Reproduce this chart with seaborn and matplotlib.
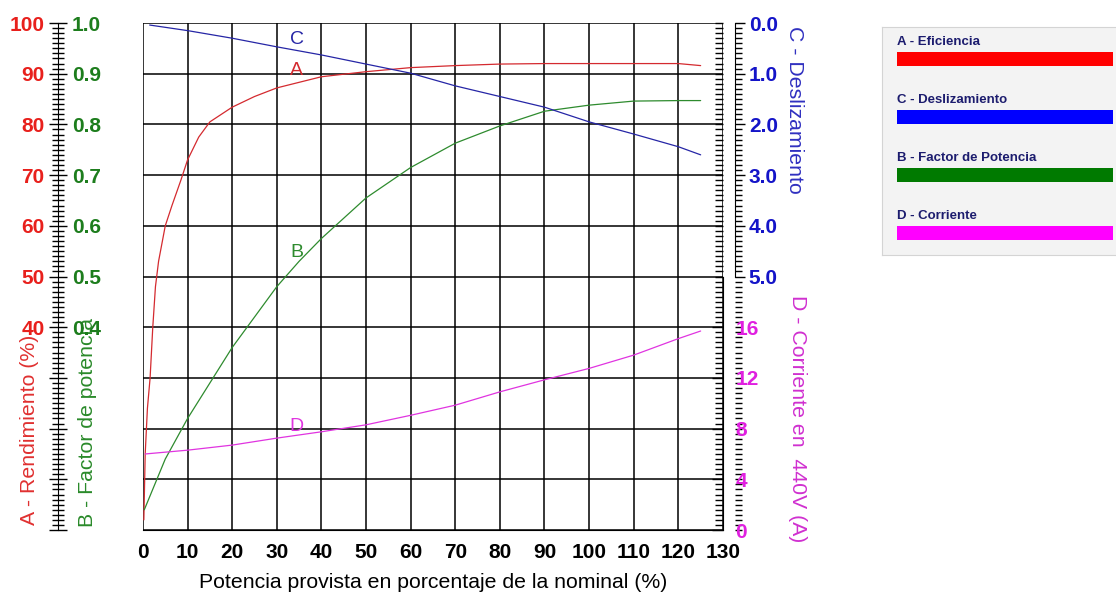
import matplotlib
matplotlib.use("Agg")
import matplotlib.pyplot as plt
from matplotlib.ticker import MultipleLocator
import seaborn as sns

# curva A - rendimiento (%)
pot_a = [0.2, 0.5, 1, 1.6, 2.2, 2.8, 3.5, 5, 6.5, 8.5, 10, 12.5, 15, 20, 25, 30,
         40, 50, 60, 70, 80, 90, 100, 110, 120, 125]
rendimiento = [2, 15, 24, 30, 40, 48, 53, 60, 64, 69, 73, 77.5, 80.5, 83.4, 85.5, 87.2,
               89.4, 90.4, 91.2, 91.6, 91.9, 92.0, 92.0, 92.0, 92.0, 91.6]

# curva B - factor de potencia
pot_b = [0.3, 5, 10, 15, 20, 25, 30, 35, 40, 50, 60, 70, 80, 90, 100, 110, 120, 125]
factor_pot = [0.04, 0.14, 0.22, 0.29, 0.36, 0.42, 0.48, 0.53, 0.575, 0.655, 0.715,
              0.763, 0.797, 0.826, 0.838, 0.846, 0.847, 0.847]

# curva C - deslizamiento
pot_c = [1.5, 10, 20, 30, 40, 50, 60, 70, 80, 90, 100, 110, 120, 125]
deslizamiento = [0.04, 0.15, 0.30, 0.47, 0.63, 0.81, 0.99, 1.24, 1.45, 1.66, 1.95,
                 2.19, 2.44, 2.6]

# curva D - corriente en 440V (A)
pot_d = [0.5, 10, 20, 30, 40, 50, 60, 70, 80, 90, 100, 110, 120, 125]
corriente = [6.0, 6.3, 6.7, 7.25, 7.75, 8.3, 9.05, 9.85, 10.9, 11.85, 12.75, 13.8,
             15.1, 15.7]

x_ticks = list(range(0, 131, 10))
a_ticks = list(range(0, 101, 10))
a_labels = ["", "", "", "", "40", "50", "60", "70", "80", "90", "100"]
b_ticks = [0.4, 0.5, 0.6, 0.7, 0.8, 0.9, 1.0]
c_ticks = [0, 1, 2, 3, 4, 5]
d_ticks = [0, 4, 8, 12, 16]

leyenda = ["A - Eficiencia", "C - Deslizamiento", "B - Factor de Potencia", "D - Corriente"]
leyenda_colores = ["#ff0000", "#0000ff", "#007a00", "#ff00ff"]

sns.set_style("white")
plt.rcParams["font.family"] = ["Liberation Sans", "DejaVu Sans"]

rojo, verde, azul, magenta = "#e8201c", "#1d7d1d", "#1414c8", "#e020e0"
tam_titulo = 15.3

fig = plt.figure(figsize=(11.16, 5.96), dpi=100)
ax = fig.add_axes([0.1281, 0.1107, 0.5197, 0.8507])

# eje principal: A (0-100) y potencia en x
ax.set_xlim(0, 130)
ax.set_ylim(0, 100)
ax.set_xticks(x_ticks)
ax.set_yticks(a_ticks)
ax.set_yticklabels(a_labels)
ax.xaxis.set_minor_locator(MultipleLocator(1))
ax.yaxis.set_minor_locator(MultipleLocator(1))
ax.grid(True, which="major", color="black", linewidth=1.1)
for s in ["top", "right"]:
    ax.spines[s].set_visible(False)
ax.spines["left"].set_position(("axes", -0.1466))
ax.spines["left"].set_color("black")
ax.spines["bottom"].set_color("black")
ax.tick_params(axis="y", which="major", direction="inout", length=13, width=1,
               color="black", labelcolor=rojo, labelsize=15, pad=3)
ax.tick_params(axis="y", which="minor", direction="inout", length=8, width=1, color="black")
ax.tick_params(axis="x", which="major", direction="in", length=6, width=1,
               color="black", labelcolor="black", labelsize=15, pad=9)
ax.tick_params(axis="x", which="minor", direction="in", length=6, width=1, color="black")
for t in ax.get_xticklabels() + ax.get_yticklabels():
    t.set_fontweight("bold")

sns.lineplot(x=pot_a, y=rendimiento, ax=ax, color="#d42a2f", linewidth=0.9)
ax.text(34.5, 90.7, "A", color="#d42a2f", fontsize=14, ha="center", va="center")

# eje B (0-1), etiquetas a la derecha de la regla izquierda
ax_b = ax.twinx()
ax_b.set_ylim(0, 1)
for s in ax_b.spines.values():
    s.set_visible(False)
ax_b.set_yticks(b_ticks)
ax_b.set_yticklabels([f"{v:.1f}" for v in b_ticks])
ax_b.yaxis.set_ticks_position("right")
ax_b.spines["right"].set_position(("axes", -0.1466))
ax_b.tick_params(axis="y", length=0, labelcolor=verde, labelsize=15, pad=10)
for t in ax_b.get_yticklabels():
    t.set_fontweight("bold")
sns.lineplot(x=pot_b, y=factor_pot, ax=ax_b, color="#2e8b2e", linewidth=0.9)
ax_b.text(34.5, 0.548, "B", color="#2e8b2e", fontsize=14, ha="center", va="center")

# eje C (deslizamiento, invertido, mitad superior)
ax_c = ax.twinx()
for s in ["top", "bottom", "left"]:
    ax_c.spines[s].set_visible(False)
ax_c.spines["right"].set_position(("axes", 1.0207))
ax_c.spines["right"].set_color("black")
ax_c.set_yticks(c_ticks)
ax_c.set_yticklabels([f"{v:.1f}" for v in c_ticks])
ax_c.yaxis.set_minor_locator(MultipleLocator(0.1))
ax_c.tick_params(axis="y", which="major", direction="out", length=7, width=1,
                 color="black", labelcolor=azul, labelsize=15, pad=3)
ax_c.tick_params(axis="y", which="minor", direction="out", length=5, width=1, color="black")
for t in ax_c.get_yticklabels():
    t.set_fontweight("bold")
sns.lineplot(x=pot_c, y=deslizamiento, ax=ax_c, color="#2626a6", linewidth=0.9)
ax_c.set_ylim(10, 0)
ax_c.spines["right"].set_bounds(0, 5)
ax_c.text(34.5, 0.335, "C", color="#2626a6", fontsize=14, ha="center", va="center")

# eje D (corriente, mitad inferior)
ax_d = ax.twinx()
for s in ["top", "bottom", "left"]:
    ax_d.spines[s].set_visible(False)
ax_d.spines["right"].set_color("black")
ax_d.set_yticks(d_ticks)
ax_d.yaxis.set_minor_locator(MultipleLocator(0.4))
ax_d.tick_params(axis="y", which="major", direction="in", length=8, width=1,
                 color="black", labelcolor=magenta, labelsize=15, pad=9)
ax_d.tick_params(axis="y", which="minor", direction="in", length=6, width=1, color="black")
for t in ax_d.get_yticklabels():
    t.set_fontweight("bold")
sns.lineplot(x=pot_d, y=corriente, ax=ax_d, color="#e034e0", linewidth=0.9)
ax_d.set_ylim(0, 40)
ax_d.spines["right"].set_bounds(0, 20)
ax_d.text(34.5, 8.2, "D", color="#e034e0", fontsize=14, ha="center", va="center")

for a in [ax_b, ax_c, ax_d]:
    a.set_xlim(0, 130)
    a.set_ylabel("")
    a.grid(False)

# titulos de los ejes
ax.text(0.5, -0.1026, "Potencia provista en porcentaje de la nominal (%)",
        transform=ax.transAxes, ha="center", va="center", fontsize=tam_titulo, color="black")
ax.text(-0.195, 0.197, "A - Rendimiento (%)", transform=ax.transAxes, rotation=90,
        ha="center", va="center", fontsize=tam_titulo, color="#e03030")
ax.text(-0.0948, 0.213, "B - Factor de potencia", transform=ax.transAxes, rotation=90,
        ha="center", va="center", fontsize=tam_titulo, color="#2a8a2a")
ax.text(1.124, 0.828, "C - Deslizamiento", transform=ax.transAxes, rotation=270,
        ha="center", va="center", fontsize=tam_titulo, color="#3030c0")
ax.text(1.128, 0.219, "D - Corriente en  440V (A)", transform=ax.transAxes, rotation=270,
        ha="center", va="center", fontsize=tam_titulo, color="#d030d0")

# leyenda
ax_l = fig.add_axes([0.7903, 0.5721, 0.215, 0.3826])
ax_l.set_facecolor("#f3f3f3")
ax_l.set_xlim(0, 1)
ax_l.set_ylim(0, 1)
ax_l.set_xticks([])
ax_l.set_yticks([])
for s in ax_l.spines.values():
    s.set_color("#d4d4d4")
for i, (nombre, col) in enumerate(zip(leyenda, leyenda_colores)):
    y0 = 0.934 - i * 0.254
    ax_l.text(0.0625, y0, nombre, color="#1c1c6e", fontsize=9.5, fontweight="bold",
              ha="left", va="center")
    ax_l.axhspan(y0 - 0.105, y0 - 0.044, xmin=0.0625, xmax=0.9625, color=col, lw=0)

fig.savefig("out.png", dpi=100, facecolor="white")
